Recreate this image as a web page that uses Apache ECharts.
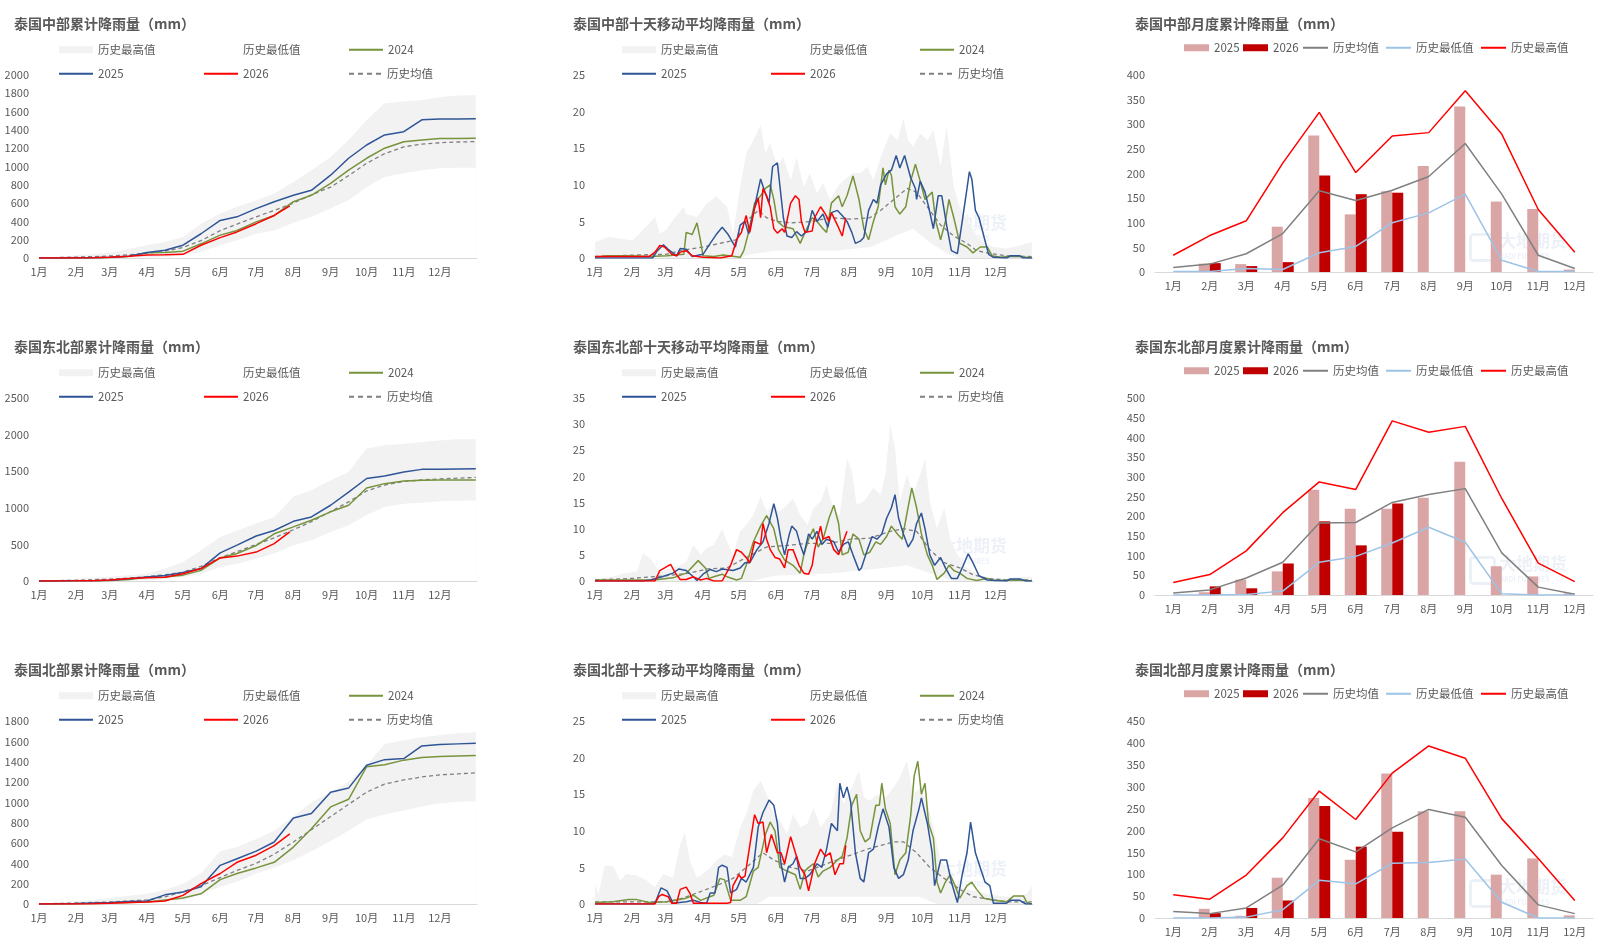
<!DOCTYPE html>
<html><head><meta charset="utf-8">
<script src="https://cdn.jsdelivr.net/npm/echarts@6/dist/echarts.min.js"></script>
<style>
html,body{margin:0;padding:0;background:#fff;width:1622px;height:948px;overflow:hidden}
.p{position:absolute}
</style></head>
<body>
<div id="c00" class="p" style="left:0;top:0;width:540px;height:323px"></div>
<div id="c01" class="p" style="left:540px;top:0;width:540px;height:323px"></div>
<div id="c02" class="p" style="left:1080px;top:0;width:542px;height:323px"></div>
<div id="c10" class="p" style="left:0;top:323px;width:540px;height:323px"></div>
<div id="c11" class="p" style="left:540px;top:323px;width:540px;height:323px"></div>
<div id="c12" class="p" style="left:1080px;top:323px;width:542px;height:323px"></div>
<div id="c20" class="p" style="left:0;top:646px;width:540px;height:302px"></div>
<div id="c21" class="p" style="left:540px;top:646px;width:540px;height:302px"></div>
<div id="c22" class="p" style="left:1080px;top:646px;width:542px;height:302px"></div>
<script>
// ---------------- shared categories ----------------
const months = ['1月','2月','3月','4月','5月','6月','7月','8月','9月','10月','11月','12月'];
const monthStart = [0,31,59,90,120,151,181,212,243,273,304,334];
const cumDays = [0,15,31,45,59,75,90,105,120,135,151,165,181,196,212,227,243,258,273,288,304,319,334,349,364];
const cumDays2026 = [0,15,31,45,59,75,90,105,120,135,151,165,181,196,209];

// ---------------- 泰国中部 累计 ----------------
const cenCumMax  = [0,15,30,45,58,100,140,175,230,375,485,560,630,705,830,960,1105,1290,1505,1690,1710,1725,1760,1775,1780];
const cenCumMin  = [0,0,0,0,0,2,5,12,30,65,140,195,265,300,385,450,540,630,775,885,925,960,980,985,985];
const cenCum2024 = [0,0,1,3,6,20,58,60,75,155,250,300,395,465,615,685,815,960,1090,1200,1270,1290,1305,1305,1308];
const cenCum2025 = [0,0,2,4,8,20,60,85,140,265,410,450,540,615,685,740,905,1090,1235,1345,1380,1510,1520,1520,1522];
const cenCum2026 = [0,0,1,3,8,20,33,36,40,139,223,285,375,465,570];
const cenCumMean = [0,5,10,15,22,35,50,75,115,190,300,370,450,520,600,690,775,900,1035,1140,1215,1245,1260,1268,1272];

// ---------------- 泰国东北部 累计 ----------------
const neCumMax  = [0,15,30,45,60,80,100,170,260,420,600,690,785,875,1150,1240,1375,1490,1810,1855,1875,1900,1920,1935,1935];
const neCumMin  = [0,0,0,0,0,3,8,25,55,100,190,235,305,375,490,555,670,760,900,1010,1055,1070,1090,1095,1100];
const neCum2024 = [0,0,2,4,8,20,50,55,80,145,315,375,485,645,740,830,945,1035,1270,1330,1365,1375,1380,1380,1380];
const neCum2025 = [0,0,3,5,10,30,55,75,115,170,385,490,615,690,815,875,1035,1215,1400,1435,1490,1525,1525,1530,1535];
const neCum2026 = [0,0,2,5,15,35,45,50,100,170,315,340,395,510,670];
const neCumMean = [0,5,10,18,25,40,60,85,120,200,320,400,500,590,700,810,950,1080,1230,1310,1360,1380,1395,1405,1415];

// ---------------- 泰国北部 累计 ----------------
const noCumMax  = [0,15,30,40,60,80,100,140,200,300,520,560,640,720,860,1000,1100,1200,1365,1575,1610,1640,1660,1680,1690];
const noCumMin  = [0,0,2,5,8,10,12,20,40,100,170,220,300,360,430,520,620,720,830,880,920,960,990,1005,1010];
const noCum2024 = [0,1,3,6,10,15,20,40,60,100,240,300,355,410,560,740,955,1030,1350,1370,1415,1440,1450,1455,1460];
const noCum2025 = [0,2,5,10,15,25,30,90,118,170,380,445,520,610,845,890,1100,1140,1365,1420,1430,1555,1570,1575,1580];
const noCum2026 = [0,0,1,3,8,15,20,30,85,200,300,410,480,575,690];
const noCumMean = [0,5,10,15,20,30,40,70,120,180,260,330,400,490,610,730,860,980,1100,1180,1220,1250,1270,1280,1290];

// ---------------- 泰国中部 十天移动平均 [day, mm] ----------------
const cenMaMax = [[0,2.2],[12,2.9],[31,2.4],[37,3.3],[50,5.6],[54,3.3],[59,3.8],[65,5.2],[74,7],[76,6],[85,5.6],[93,7.4],[101,8.4],[110,7],[115,3.3],[121,9.7],[126,14.3],[132,16.1],[138,18.2],[142,14.3],[146,15.7],[152,12.5],[157,13.8],[163,10.6],[168,13.8],[174,9.7],[179,11.6],[185,8.8],[190,10.2],[196,7.9],[202,9.7],[207,10.6],[215,11.6],[221,11.6],[227,12.5],[232,10.6],[238,13.8],[246,17],[252,16.1],[257,19.1],[261,16.1],[265,15.2],[271,17],[277,16.1],[282,17.5],[288,12.5],[293,18],[299,9.7],[304,7],[313,4.3],[321,2.4],[332,1.5],[343,1.3],[354,1.7],[364,2.2]];
const cenMaMin = [[0,0],[120,0],[130,0.5],[150,1],[200,1],[230,1.5],[250,3],[265,4],[280,2],[295,0.5],[305,0],[364,0]];
const cenMa2024 = [[0,0.1],[10,0.3],[30,0.3],[45,0.2],[60,0.3],[74,0.5],[76,3.5],[81,3.2],[85,4.8],[88,2.3],[90,0.3],[99,0.2],[107,0.4],[121,0.1],[124,1],[128,3.5],[133,7.5],[138,8.5],[142,9.5],[146,10],[149,8],[152,5],[157,4.3],[165,4],[171,2],[175,3.5],[181,5.5],[185,5],[190,4],[193,3.5],[197,7.5],[203,8.5],[206,7],[210,8.5],[215,11.2],[220,8],[224,4],[228,2.5],[232,5],[236,7],[240,12.3],[242,10],[245,12],[247,11.3],[250,7],[254,6],[259,7],[263,10.5],[267,12.8],[271,10.5],[275,8],[281,9],[284,5],[288,2.5],[292,5],[295,8],[299,5.5],[304,2],[310,1.5],[315,0.7],[321,1.5],[327,1.5],[331,0.3],[338,0.1],[343,0.2],[354,0.2],[364,0]];
const cenMa2025 = [[0,0],[48,0],[52,1],[57,1.8],[61,1.2],[68,0.3],[71,1.3],[76,1.2],[81,0.2],[90,0.5],[96,2],[101,3.2],[106,4.2],[111,3.2],[117,1.5],[121,4.5],[125,5],[128,3.3],[133,7],[138,10.8],[141,9.3],[145,7.5],[148,12.5],[152,13],[154,10],[157,5.5],[160,3],[164,2.8],[168,3.6],[172,3],[177,3.7],[181,6.5],[185,5],[190,6],[194,4.2],[197,6.2],[202,6.5],[206,5.8],[210,5],[214,3.5],[217,2],[221,2.3],[224,2.8],[228,6.5],[232,8],[235,7.5],[238,10],[243,11.5],[247,12],[251,14],[254,12.3],[258,14],[263,11],[267,9.5],[268,8],[271,10.5],[275,9],[278,7],[282,4],[286,8.5],[289,8.5],[293,4.5],[297,1],[302,0.6],[306,5],[310,9.5],[312,11.8],[314,10.8],[317,6.5],[320,5.5],[324,3],[328,0.5],[332,0.1],[343,0],[346,0.3],[354,0.3],[357,0],[364,0]];
const cenMa2026 = [[0,0.2],[45,0.2],[50,0.8],[54,1.7],[58,1.5],[64,0.5],[68,0.3],[71,0.8],[76,1],[81,0.3],[90,0.1],[104,0],[114,0.3],[118,2.5],[122,3.5],[126,5.8],[129,3.5],[133,6.8],[136,8.2],[138,5.5],[140,9.5],[143,8.5],[146,7],[149,4],[152,3.4],[156,4],[158,3.5],[163,7.5],[167,8.5],[170,8],[172,5],[175,3.5],[181,3.7],[183,5.5],[188,7],[192,6],[195,5],[197,6.2],[202,4.5],[206,3],[209,5.5]];
const cenMaMean = [[0,0.2],[31,0.4],[59,0.5],[71,1],[90,1.5],[104,2],[118,2.5],[126,5],[136,6.5],[143,5.5],[152,5],[163,4.8],[181,5],[196,5.5],[213,5.3],[229,5.5],[238,6.5],[249,8],[260,9.5],[268,9],[279,6.5],[288,4.5],[299,3],[310,2],[318,1],[330,0.6],[343,0.3],[364,0.2]];

// ---------------- 泰国东北部 十天移动平均 ----------------
const neMaMax = [[0,0.5],[15,0.8],[24,1.5],[35,1.8],[40,5.3],[46,4.3],[54,1.8],[63,2.4],[71,3],[76,3.7],[82,6.9],[88,5],[93,6.3],[99,6.9],[106,10],[110,7.5],[115,5],[121,9.5],[126,10.7],[132,12.6],[138,16.2],[143,13.3],[149,14.6],[154,13.3],[160,14.6],[165,15.8],[171,12.6],[177,10.7],[182,13.9],[188,15.2],[193,18.4],[199,13.3],[204,12.6],[210,23.5],[214,21],[218,14.6],[224,15.2],[232,17.8],[238,16.5],[242,20.3],[246,29.9],[250,25.4],[254,15.2],[260,20.3],[265,16.5],[271,20.3],[275,23.5],[279,15.2],[285,10],[291,13.9],[296,8.2],[302,5],[310,2.4],[321,1.1],[332,0.5],[343,0.5],[354,0.8],[364,0.8]];
const neMaMin = [[0,0],[130,0],[150,1],[200,1.5],[240,2.5],[260,3],[285,1],[300,0],[364,0]];
const neMa2024 = [[0,0.2],[30,0.2],[49,0.2],[65,0.6],[76,1.5],[86,3.9],[92,2.5],[95,0.5],[99,0.8],[106,1.3],[110,0.8],[118,0.2],[122,0.5],[126,3],[132,7.5],[138,10.5],[143,12.5],[149,10],[153,6],[158,4],[165,3],[171,1.5],[174,5],[178,8],[182,10],[186,6.5],[190,8],[195,12],[199,14.5],[203,11],[206,5],[211,5.5],[215,9],[220,8],[224,5],[229,5.5],[234,7.5],[238,7],[243,8.5],[247,10.5],[252,9],[256,8],[260,13],[264,17.8],[268,14],[272,9],[277,5],[281,3],[285,0.3],[291,1.5],[295,3],[299,2],[304,1.5],[310,0.5],[318,0.1],[327,0.5],[332,0.1],[354,0.2],[364,0]];
const neMa2025 = [[0,0],[40,0],[46,0.2],[56,0.8],[65,1.5],[70,2.3],[76,2],[81,1],[85,0.1],[90,1.3],[96,2.2],[101,1.8],[106,2.3],[115,2],[121,2.5],[125,3.5],[129,3.5],[135,6],[140,7.5],[145,11],[149,14.8],[152,12],[155,8],[158,5],[162,9],[164,10.5],[168,9.5],[171,7],[174,5],[178,9],[181,8],[185,9.5],[189,7],[193,8],[199,7.5],[203,5.5],[207,7],[211,7.5],[215,5],[220,2],[222,2.5],[227,6],[231,8.5],[235,8],[239,9],[243,12],[247,14],[250,16.5],[253,12],[257,9],[261,6.5],[265,8],[268,11],[272,13],[275,10],[279,5],[283,3],[288,4.5],[292,2.5],[297,0.5],[302,0.5],[306,2.5],[311,5.2],[315,3.5],[320,1],[327,0.2],[343,0],[346,0.4],[354,0.4],[359,0],[364,0]];
const neMa2026 = [[0,0],[50,0],[54,2],[58,2.5],[63,3.2],[67,1.5],[71,0.3],[76,0.3],[82,0.8],[88,0.2],[93,0.5],[99,0],[106,0],[113,3],[118,6],[122,5.5],[126,4.5],[129,3.5],[133,7.5],[138,7],[140,11],[143,8],[146,6],[150,4.5],[154,4.2],[158,2.5],[161,6],[165,6],[170,3],[174,1.5],[178,1.3],[181,3],[183,6],[188,10.5],[190,8],[195,8.5],[199,6],[203,5],[206,7],[210,9.5]];
const neMaMean = [[0,0.2],[31,0.5],[59,1],[79,1.5],[93,2.3],[110,2.5],[126,4.5],[143,6.5],[160,6.8],[177,7.2],[196,7.2],[213,8],[229,8.2],[246,9.5],[257,10],[268,9.5],[279,6],[291,3.5],[304,2.5],[315,1.2],[327,0.5],[343,0.2],[364,0.2]];

// ---------------- 泰国北部 十天移动平均 ----------------
const noMaMax = [[0,2.7],[3,1.4],[8,5.2],[15,5.2],[21,3.2],[26,4.1],[35,3.9],[43,3.2],[50,2.3],[57,4.1],[65,3.6],[71,8.2],[75,9.8],[79,5.9],[85,3.6],[90,4.1],[96,5],[101,5.9],[108,6.8],[114,6.4],[121,10.5],[126,12.3],[132,15.5],[138,16.8],[143,15],[149,12.3],[154,11.4],[160,9.6],[165,12.3],[171,10.5],[177,11],[182,13.2],[188,10.5],[196,12.3],[202,16.4],[207,13.7],[214,15.9],[220,18.2],[224,14.6],[229,14.1],[235,15],[240,14.1],[249,15.9],[254,17.3],[260,19.6],[265,15],[271,15.9],[278,13.2],[283,9.6],[288,5.9],[296,4.1],[304,2.3],[315,1.8],[327,1.4],[338,1.1],[349,0.9],[360,1.4],[364,2.5]];
const noMaMin = [[0,0],[135,0],[145,1],[270,1],[285,0],[364,0]];
const noMa2024 = [[0,0.2],[15,0.3],[28,0.6],[35,0.6],[45,0.2],[60,0.3],[76,0.8],[82,1.2],[88,0.5],[99,1.2],[104,3.5],[108,3.3],[113,0.5],[121,0.5],[126,1],[132,4.5],[136,5],[142,9.5],[146,11.2],[150,10],[154,5],[160,4.5],[167,4],[171,2],[175,4.5],[178,5],[182,5.5],[186,3.7],[190,4.5],[196,5],[202,6],[206,6.5],[210,9],[214,13.5],[218,15],[221,10],[225,8.5],[229,9],[234,13.5],[237,13.5],[239,16.5],[242,13],[246,11],[250,4],[254,6],[259,7],[263,12],[266,17.5],[269,19.5],[272,15],[275,16.5],[278,11],[282,9],[285,3],[288,1.5],[292,3],[296,4],[300,2.5],[304,0.8],[310,2.5],[314,3],[318,2],[324,0.8],[332,0.5],[343,0.3],[349,1.1],[357,1.1],[360,0.2],[364,0]];
const noMa2025 = [[0,0],[49,0],[51,0.5],[55,2.2],[60,1.8],[63,0.8],[65,0.1],[76,0.3],[82,0.5],[88,0.2],[93,0.1],[96,1.5],[100,1.5],[103,5],[106,5.3],[110,5],[113,1.5],[118,2],[122,3.5],[126,3],[132,5],[136,10.5],[140,12.5],[145,14.2],[149,13.5],[152,11],[155,5.5],[158,3],[161,5],[165,5.5],[168,6.5],[171,3.5],[175,3.5],[179,4],[185,5.5],[189,5],[193,7.5],[197,11],[202,10],[204,16.5],[207,14.5],[210,16],[213,14],[217,7],[221,3.5],[224,3],[228,7],[232,7.5],[236,10.5],[240,13],[245,10.5],[249,5],[253,3.5],[257,4],[261,6],[265,10],[270,13],[272,14.5],[277,11],[281,7],[283,2.5],[288,6],[293,6],[297,3],[302,0.2],[306,4],[310,7],[313,11.2],[317,7],[321,5],[325,3],[329,2.5],[332,0.1],[343,0.1],[346,0.5],[354,0.5],[359,0],[364,0]];
const noMa2026 = [[0,0],[50,0],[53,1],[56,1.3],[61,1],[64,0.1],[68,0.1],[71,2],[76,2.3],[79,1.5],[82,0.1],[110,0.1],[113,0.2],[115,2.5],[120,4],[122,3.5],[125,3.8],[129,8],[133,12.2],[136,11],[140,11.2],[143,7],[147,9.5],[152,7],[155,7],[158,5.5],[163,9.2],[167,7],[171,5],[175,4],[178,1.8],[181,4],[183,5.5],[188,7.5],[192,6.5],[196,7],[200,4],[204,5.5],[207,5.5],[209,8]];
const noMaMean = [[0,0.3],[59,0.3],[71,0.7],[85,1.5],[101,2.5],[115,3.5],[126,5],[140,7],[149,6],[163,5],[177,4.5],[193,5.5],[210,6.5],[227,7.5],[238,8],[249,8.5],[257,8.5],[268,7],[279,5],[291,3.5],[304,2],[315,1],[327,0.7],[343,0.3],[364,0.3]];

// ---------------- 月度累计 ----------------
const cenMon2025 = [0,17,16,92,277,117,164,215,336,143,128,5];
const cenMon2026 = [0,18,12,20,196,158,161];
const cenMonMean = [9,16,37,78,165,145,166,194,261,158,34,7];
const cenMonMin  = [1,1,7,5,39,52,100,120,158,24,1,1];
const cenMonMax  = [34,74,104,221,324,202,276,283,368,280,127,40];

const neMon2025 = [0,7,39,60,267,219,219,247,338,73,47,4];
const neMon2026 = [0,22,17,80,187,126,232];
const neMonMean = [5,13,43,83,183,184,235,255,270,107,20,2];
const neMonMin  = [0,0,1,10,83,98,132,172,134,3,0,0];
const neMonMax  = [32,52,112,209,287,268,442,413,428,245,81,34];

const noMon2025 = [0,21,5,92,274,133,330,244,244,99,136,6];
const noMon2026 = [0,11,23,40,256,163,197];
const noMonMean = [15,10,23,75,181,151,206,248,230,120,30,10];
const noMonMin  = [0,0,2,19,86,78,125,127,135,36,0,0];
const noMonMax  = [53,43,98,183,290,225,331,393,365,227,136,40];

// ---------------- styling ----------------
const FONT = '"Noto Sans CJK SC","Microsoft YaHei",sans-serif';
const TXT = '#595959';
const AX = '#d9d9d9';
const BAND = '#f2f2f2';
const COL2024 = '#77933C';
const COL2025 = '#2F5597';
const COL2026 = '#FF0000';
const COLMEAN = '#7f7f7f';
const DASH_ICON = 'path://M0,0h5v2h-5z M9,0h5v2h-5z M18,0h5v2h-5z M27,0h5v2h-5z';

function pairs(days, vals){ return vals.map(function(v,i){ return [days[i], v]; }); }
function plain(v){ return String(v); }

function watermark(x, y){
  const f = 'rgba(150,172,210,0.18)';
  return [
    {type:'rect', left:x, top:y, shape:{width:24, height:26, r:3}, style:{fill:'none', stroke:f, lineWidth:3}, silent:true},
    {type:'text', left:x+31, top:y, style:{text:'大地期货', font:'bold 17px '+FONT, fill:f}, silent:true},
    {type:'text', left:x+31, top:y+21, style:{text:'DADI FUTURES', font:'bold 7px '+FONT, fill:f}, silent:true}
  ];
}

function legendItem(item, x, cy, w, h){
  return {data:[item], left:x, top:cy-8, itemWidth:w, itemHeight:h, padding:0, itemGap:0,
    selectedMode:false, textStyle:{fontSize:11.5, color:TXT, fontFamily:FONT}};
}

function lineChart(id, o){
  const chart = echarts.init(document.getElementById(id));
  const legends = [
    legendItem({name:'历史最高值', icon:'rect', itemStyle:{color:BAND}}, o.lx, 52, 34, 7),
    legendItem({name:'历史最低值', icon:'rect', itemStyle:{color:'#ffffff'}}, o.lx + o.lsp, 52, 34, 7),
    legendItem({name:'2024', icon:'rect', itemStyle:{color:COL2024}}, o.lx + 2*o.lsp, 52, 34, 2),
    legendItem({name:'2025', icon:'rect', itemStyle:{color:COL2025}}, o.lx, 76, 34, 2),
    legendItem({name:'2026', icon:'rect', itemStyle:{color:COL2026}}, o.lx + o.lsp, 76, 34, 2),
    legendItem({name:'历史均值', icon:DASH_ICON, itemStyle:{color:COLMEAN}}, o.lx + 2*o.lsp, 76, 34, 2)
  ];
  const ln = function(name, data, color, extra){
    return Object.assign({name:name, type:'line', data:data, symbol:'none', showSymbol:false,
      lineStyle:{color:color, width:1.5}, itemStyle:{color:color}, silent:true}, extra||{});
  };
  chart.setOption({
    animation:false,
    textStyle:{fontFamily:FONT},
    title:{text:o.title, left:o.tx, top:17, padding:0, textStyle:{fontSize:14, fontWeight:'bold', color:TXT, fontFamily:FONT}},
    legend:legends,
    graphic:watermark(o.wx, 214),
    grid:{left:o.gl, top:75, width:438, height:183},
    xAxis:{type:'value', min:0, max:365,
      axisLine:{show:true, lineStyle:{color:AX, width:1}}, axisTick:{show:false}, splitLine:{show:false},
      axisLabel:{customValues:monthStart, formatter:function(v){ return months[monthStart.indexOf(v)] || ''; }, color:TXT, fontSize:11, margin:8, fontFamily:FONT}},
    yAxis:{type:'value', min:0, max:o.yMax, interval:o.yStep,
      axisLine:{show:false}, axisTick:{show:false}, splitLine:{show:false},
      axisLabel:{formatter:plain, color:TXT, fontSize:11, margin:10, fontFamily:FONT}},
    series:[
      ln('历史最高值', o.max, BAND, {lineStyle:{width:0, color:BAND}, areaStyle:{color:BAND, opacity:1}, z:1}),
      ln('历史最低值', o.min, '#ffffff', {lineStyle:{width:0, color:'#ffffff'}, areaStyle:{color:'#ffffff', opacity:1}, z:1}),
      ln('历史均值', o.mean, COLMEAN, {lineStyle:{color:COLMEAN, width:1.3, type:[4,3]}}),
      ln('2024', o.y2024, COL2024),
      ln('2025', o.y2025, COL2025),
      ln('2026', o.y2026, COL2026)
    ]
  });
}

function barChart(id, o){
  const chart = echarts.init(document.getElementById(id));
  const legends = [
    legendItem({name:'2025', icon:'rect', itemStyle:{color:'#D9A5A5'}}, 104, 50, 25, 7),
    legendItem({name:'2026', icon:'rect', itemStyle:{color:'#C00000'}}, 163, 50, 25, 7),
    legendItem({name:'历史均值', icon:'rect', itemStyle:{color:'#808080'}}, 223, 50, 25, 2),
    legendItem({name:'历史最低值', icon:'rect', itemStyle:{color:'#9DC3E6'}}, 306, 50, 25, 2),
    legendItem({name:'历史最高值', icon:'rect', itemStyle:{color:'#FF0000'}}, 401, 50, 25, 2)
  ];
  const ln = function(name, data, color){
    return {name:name, type:'line', data:data, symbol:'none', showSymbol:false,
      lineStyle:{color:color, width:1.5}, itemStyle:{color:color}, silent:true, z:3};
  };
  chart.setOption({
    animation:false,
    textStyle:{fontFamily:FONT},
    title:{text:o.title, left:55, top:17, padding:0, textStyle:{fontSize:14, fontWeight:'bold', color:TXT, fontFamily:FONT}},
    legend:legends,
    graphic:watermark(388, 232),
    grid:{left:75, top:75, width:438, height:197},
    xAxis:{type:'category', data:months, boundaryGap:true,
      axisLine:{show:true, lineStyle:{color:AX, width:1}}, axisTick:{show:false},
      axisLabel:{color:TXT, fontSize:11, margin:8, fontFamily:FONT, interval:0}},
    yAxis:{type:'value', min:0, max:o.yMax, interval:50,
      axisLine:{show:false}, axisTick:{show:false}, splitLine:{show:false},
      axisLabel:{formatter:plain, color:TXT, fontSize:11, margin:10, fontFamily:FONT}},
    series:[
      {name:'2025', type:'bar', data:o.y2025, barWidth:11, barGap:'0%', itemStyle:{color:'#D9A5A5'}, silent:true},
      {name:'2026', type:'bar', data:o.y2026, barWidth:11, barGap:'0%', itemStyle:{color:'#C00000'}, silent:true},
      ln('历史均值', o.mean, '#808080'),
      ln('历史最低值', o.min, '#9DC3E6'),
      ln('历史最高值', o.max, '#FF0000')
    ]
  });
}

// ---- column 1: cumulative ----
const cumCfg = {gl:39, tx:14, lx:59, lsp:145, wx:345};
lineChart('c00', Object.assign({title:'泰国中部累计降雨量（mm）', yMax:2000, yStep:200,
  max:pairs(cumDays,cenCumMax), min:pairs(cumDays,cenCumMin), mean:pairs(cumDays,cenCumMean),
  y2024:pairs(cumDays,cenCum2024), y2025:pairs(cumDays,cenCum2025), y2026:pairs(cumDays2026,cenCum2026)}, cumCfg));
lineChart('c10', Object.assign({title:'泰国东北部累计降雨量（mm）', yMax:2500, yStep:500,
  max:pairs(cumDays,neCumMax), min:pairs(cumDays,neCumMin), mean:pairs(cumDays,neCumMean),
  y2024:pairs(cumDays,neCum2024), y2025:pairs(cumDays,neCum2025), y2026:pairs(cumDays2026,neCum2026)}, cumCfg));
lineChart('c20', Object.assign({title:'泰国北部累计降雨量（mm）', yMax:1800, yStep:200,
  max:pairs(cumDays,noCumMax), min:pairs(cumDays,noCumMin), mean:pairs(cumDays,noCumMean),
  y2024:pairs(cumDays,noCum2024), y2025:pairs(cumDays,noCum2025), y2026:pairs(cumDays2026,noCum2026)}, cumCfg));

// ---- column 2: 10-day moving average ----
const maCfg = {gl:55, tx:33, lx:82, lsp:149, wx:368};
lineChart('c01', Object.assign({title:'泰国中部十天移动平均降雨量（mm）', yMax:25, yStep:5,
  max:cenMaMax, min:cenMaMin, mean:cenMaMean, y2024:cenMa2024, y2025:cenMa2025, y2026:cenMa2026}, maCfg));
lineChart('c11', Object.assign({title:'泰国东北部十天移动平均降雨量（mm）', yMax:35, yStep:5,
  max:neMaMax, min:neMaMin, mean:neMaMean, y2024:neMa2024, y2025:neMa2025, y2026:neMa2026}, maCfg));
lineChart('c21', Object.assign({title:'泰国北部十天移动平均降雨量（mm）', yMax:25, yStep:5,
  max:noMaMax, min:noMaMin, mean:noMaMean, y2024:noMa2024, y2025:noMa2025, y2026:noMa2026}, maCfg));

// ---- column 3: monthly ----
barChart('c02', {title:'泰国中部月度累计降雨量（mm）', yMax:400,
  y2025:cenMon2025, y2026:cenMon2026, mean:cenMonMean, min:cenMonMin, max:cenMonMax});
barChart('c12', {title:'泰国东北部月度累计降雨量（mm）', yMax:500,
  y2025:neMon2025, y2026:neMon2026, mean:neMonMean, min:neMonMin, max:neMonMax});
barChart('c22', {title:'泰国北部月度累计降雨量（mm）', yMax:450,
  y2025:noMon2025, y2026:noMon2026, mean:noMonMean, min:noMonMin, max:noMonMax});
</script>
</body></html>
